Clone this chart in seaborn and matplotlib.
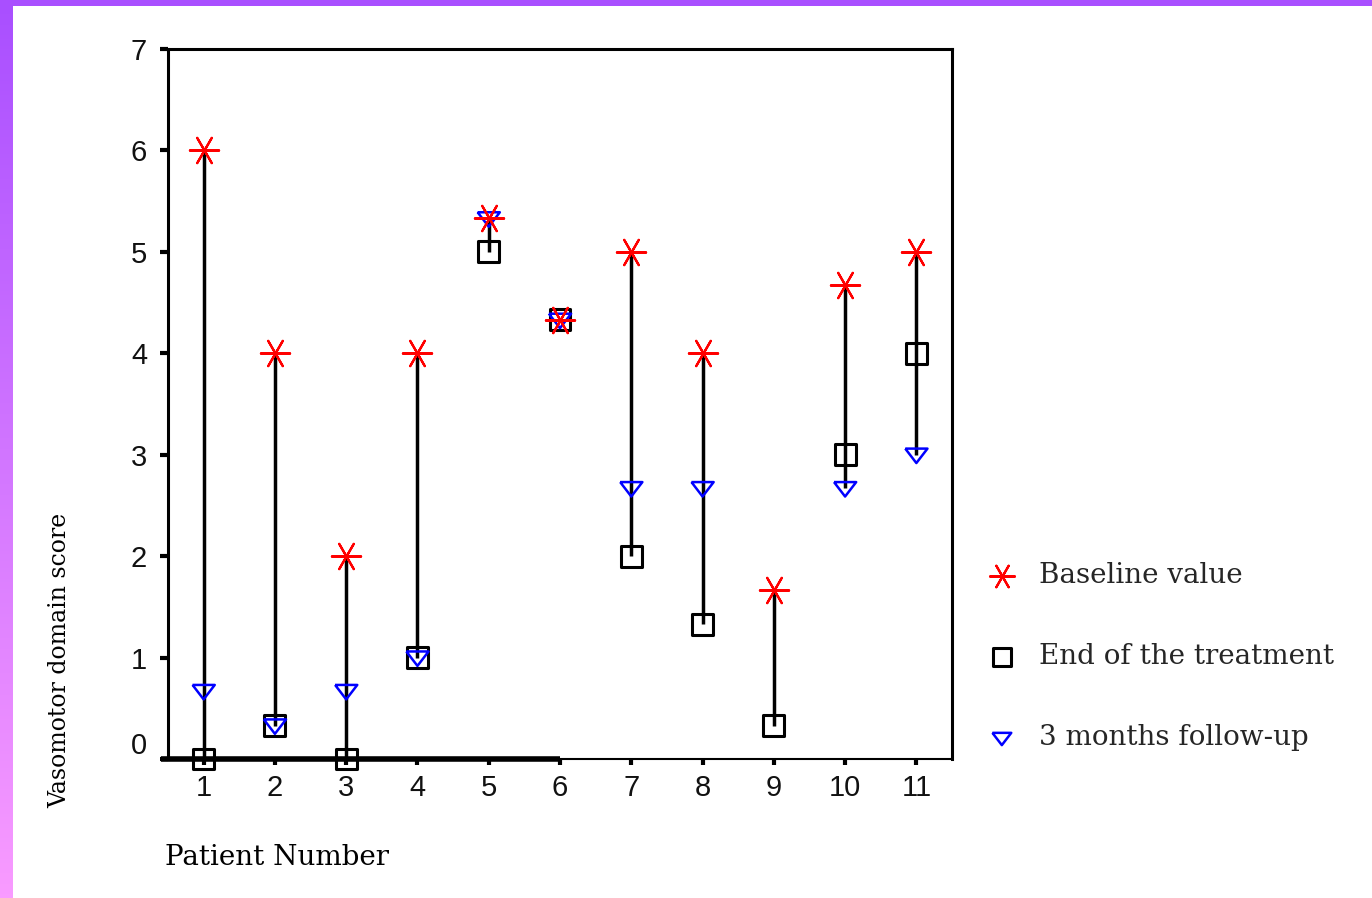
import numpy as np
import pandas as pd
import matplotlib
matplotlib.use("Agg")
import matplotlib.pyplot as plt
import matplotlib.transforms as mtransforms
import seaborn as sns

# ---- data ----
patients = [1, 2, 3, 4, 5, 6, 7, 8, 9, 10, 11]
baseline = [6.0, 4.0, 2.0, 4.0, 5.33, 4.33, 5.0, 4.0, 1.67, 4.67, 5.0]
end_treatment = [0.0, 0.33, 0.0, 1.0, 5.0, 4.33, 2.0, 1.33, 0.33, 3.0, 4.0]
follow_up = [0.67, 0.33, 0.67, 1.0, 5.33, 4.33, 2.67, 2.67, np.nan, 2.67, 3.0]
series_labels = ["Baseline value", "End of the treatment", "3 months follow-up"]
y_ticks = [0, 1, 2, 3, 4, 5, 6, 7]

df = pd.DataFrame({"patient": patients, "baseline": baseline,
                   "end": end_treatment, "follow": follow_up})
df["lo"] = df[["baseline", "end", "follow"]].min(axis=1)
df["hi"] = df[["baseline", "end", "follow"]].max(axis=1)

sns.set_theme(style="white")
plt.rcParams["font.family"] = ["Liberation Sans", "DejaVu Sans"]

W, H = 1372, 898
fig = plt.figure(figsize=(W / 100, H / 100), dpi=100)
fig.patch.set_facecolor("white")

# purple frame (top strip + left gradient strip)
top_ax = fig.add_axes([0, 1 - 6 / H, 1, 6 / H])
top_ax.set_facecolor("#a94fff")
top_ax.set_xticks([]); top_ax.set_yticks([])
for s in top_ax.spines.values():
    s.set_visible(False)
left_ax = fig.add_axes([0, 0, 13 / W, 1])
grad = np.linspace(0, 1, 256).reshape(-1, 1)
cmap = matplotlib.colors.LinearSegmentedColormap.from_list("pp", ["#a94fff", "#f99bff"])
left_ax.imshow(grad, aspect="auto", cmap=cmap, extent=[0, 1, 0, 1], origin="upper")
left_ax.axis("off")

ax = fig.add_axes([168 / W, 1 - 759 / H, (952 - 168) / W, (759 - 49) / H])
ax.set_facecolor("white")

# connecting vertical lines
ax.vlines(df["patient"], df["lo"], df["hi"], color="black", lw=2.5, zorder=2)

square = "s"
tri = [(-1.0, 0.55), (1.0, 0.55), (0.0, -0.75), (-1.0, 0.55)]
star = (6, 2, 90)

sns.scatterplot(data=df, x="patient", y="end", marker=square, s=15 ** 2,
                facecolor="none", edgecolor="black", linewidth=2.2,
                ax=ax, zorder=3, label=series_labels[1], clip_on=False)
sns.scatterplot(data=df, x="patient", y="follow", marker=tri, s=16 ** 2,
                facecolor="none", edgecolor="#0000ff", linewidth=1.8,
                ax=ax, zorder=4, label=series_labels[2], clip_on=False)
sns.scatterplot(data=df, x="patient", y="baseline", marker=star, s=21 ** 2,
                color="#ff0000", linewidth=1.6,
                ax=ax, zorder=5, label=series_labels[0], clip_on=False)

ax.set_xlim(0.5, 11.5)
ax.set_ylim(0, 7)
ax.set_xticks(patients)
ax.set_yticks(y_ticks)
ax.set_xticklabels([str(p) for p in patients])
ax.set_yticklabels([str(v) for v in y_ticks])

for side in ["left", "right", "top"]:
    ax.spines[side].set_visible(True)
    ax.spines[side].set_color("black")
    ax.spines[side].set_linewidth(2.2)
ax.spines["bottom"].set_color("black")
ax.spines["bottom"].set_linewidth(1.5)
# thick base segment seen in the original
ax.plot([0.4, 6.0], [0, 0], color="black", lw=4, clip_on=False, zorder=2.5,
        solid_capstyle="butt")

ax.tick_params(axis="y", direction="out", length=6, width=3, color="black",
               labelsize=21, pad=9, left=True)
ax.tick_params(axis="x", direction="out", length=4, width=3, color="black",
               labelsize=21, pad=7, bottom=True)
for lbl in ax.get_xticklabels() + ax.get_yticklabels():
    lbl.set_color("#111111")
    lbl.set_family(["Liberation Sans", "DejaVu Sans"])

# "0" label sits a little higher in the original
zero_lbl = ax.get_yticklabels()[0]
zero_lbl.set_transform(zero_lbl.get_transform() +
                       mtransforms.ScaledTranslation(0, 16 / 100, fig.dpi_scale_trans))

serif = ["DejaVu Serif", "Liberation Serif"]
ax.set_xlabel("Patient Number", fontsize=20, family=serif, ha="left", va="center",
              color="black")
ax.xaxis.set_label_coords(-0.004, -0.139)
ax.set_ylabel("Vasomotor domain score", fontsize=17, family=serif, ha="center",
              va="center", color="black")
ax.yaxis.set_label_coords(-0.138, 0.139)

handles, labels = ax.get_legend_handles_labels()
order = [labels.index(l) for l in series_labels]
leg = ax.legend([handles[i] for i in order], [labels[i] for i in order],
                loc="upper left", bbox_to_anchor=(981 / W, 1 - 562 / H),
                bbox_transform=fig.transFigure, frameon=False,
                prop={"family": serif, "size": 20}, labelspacing=1.95,
                handlelength=1.5, handletextpad=0.6, markerscale=0.85,
                borderaxespad=0, borderpad=0)

fig.savefig("out.png", dpi=100, facecolor="white")
